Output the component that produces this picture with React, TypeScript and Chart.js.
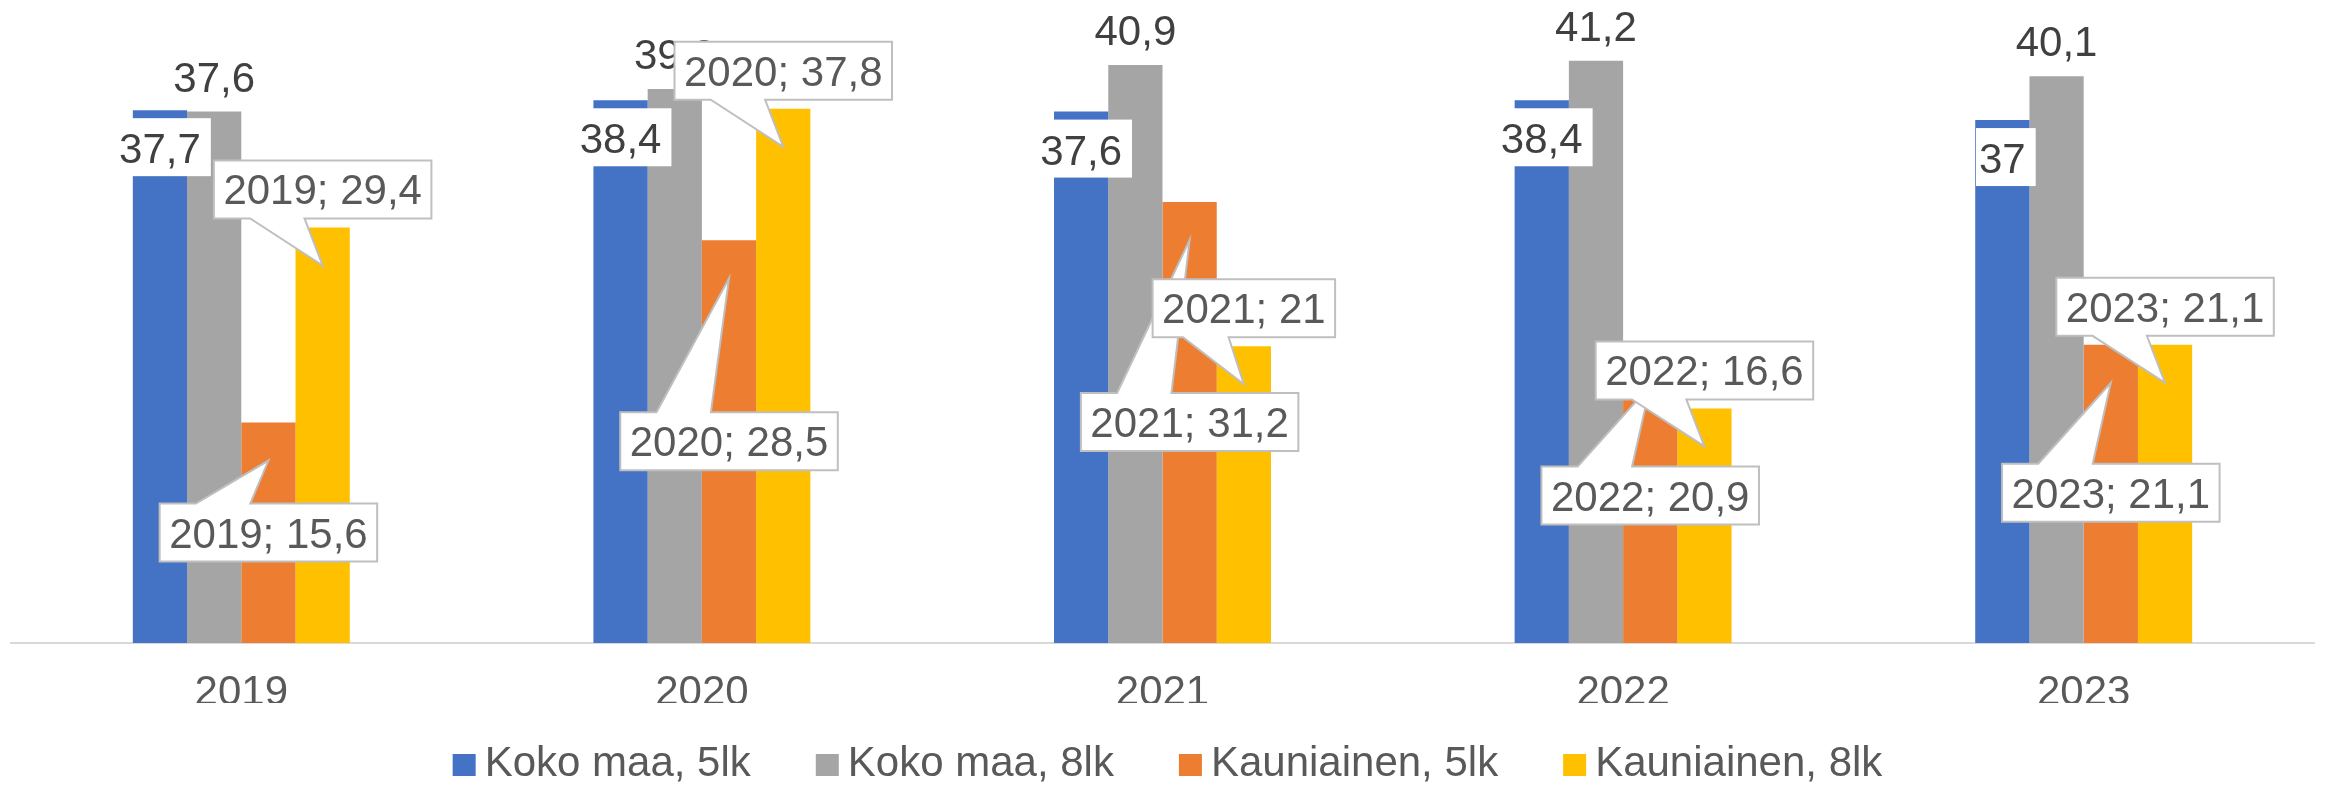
import React, { useEffect, useRef } from 'react';
import { Chart, registerables } from 'chart.js';

Chart.register(...registerables);

// ---- data ----
const categories = ['2019', '2020', '2021', '2022', '2023'];
const kokoMaa5lk = [37.7, 38.4, 37.6, 38.4, 37];
const kokoMaa8lk = [37.6, 39.2, 40.9, 41.2, 40.1];
const kauniainen5lk = [15.6, 28.5, 31.2, 20.9, 21.1];
const kauniainen8lk = [29.4, 37.8, 21, 16.6, 21.1];
const seriesNames = ['Koko maa, 5lk', 'Koko maa, 8lk', 'Kauniainen, 5lk', 'Kauniainen, 8lk'];

// ---- styles ----
const seriesColors = ['#4472C4', '#A5A5A5', '#ED7D31', '#FFC000'];
// vertical offset (px) of each callout box centre from its pointer tip
const callout5lkOffsets = [72, 163, 182, 110, 110];
const callout8lkOffsets = [-76, -76, -76, -76, -76];

const FONT = '"Liberation Sans", Arial, Helvetica, sans-serif';
const FONT_SIZE = 42;
const fmt = (v: number) => String(v).replace('.', ',');

function drawCallout(ctx: CanvasRenderingContext2D, cx: number, tipY: number, offset: number, text: string) {
  const tw = ctx.measureText(text).width;
  const w = tw + 19;
  const h = 58;
  const cy = tipY + offset;
  const l = cx - w / 2;
  const r = cx + w / 2;
  const t = cy - h / 2;
  const b = cy + h / 2;
  const xl = l + w / 6;
  const xr = l + (w * 5) / 12;
  ctx.beginPath();
  if (offset < 0) {
    // tip is below the box
    ctx.moveTo(l, t);
    ctx.lineTo(r, t);
    ctx.lineTo(r, b);
    ctx.lineTo(xr, b);
    ctx.lineTo(cx, tipY);
    ctx.lineTo(xl, b);
    ctx.lineTo(l, b);
  } else {
    // tip is above the box
    ctx.moveTo(l, t);
    ctx.lineTo(xl, t);
    ctx.lineTo(cx, tipY);
    ctx.lineTo(xr, t);
    ctx.lineTo(r, t);
    ctx.lineTo(r, b);
    ctx.lineTo(l, b);
  }
  ctx.closePath();
  ctx.fillStyle = '#FFFFFF';
  ctx.fill();
  ctx.lineWidth = 2;
  ctx.strokeStyle = '#BFBFBF';
  ctx.lineJoin = 'miter';
  ctx.stroke();
  ctx.fillStyle = '#595959';
  ctx.fillText(text, cx, cy + 15);
}

const labelsPlugin = {
  id: 'excelLabels',
  afterDatasetsDraw(chart: any) {
    const ctx: CanvasRenderingContext2D = chart.ctx;
    ctx.save();
    ctx.font = `${FONT_SIZE}px ${FONT}`;
    ctx.textAlign = 'center';
    ctx.textBaseline = 'alphabetic';

    // Koko maa, 5lk: inside end with white background
    chart.getDatasetMeta(0).data.forEach((bar: any, i: number) => {
      const { x, y } = bar.getProps(['x', 'y'], true);
      const t = fmt(kokoMaa5lk[i]);
      const tw = ctx.measureText(t).width;
      ctx.fillStyle = '#FFFFFF';
      ctx.fillRect(x - tw / 2 - 3, y + 8, tw + 13, 58);
      ctx.fillStyle = '#404040';
      ctx.fillText(t, x, y + 53);
    });

    // Koko maa, 8lk: outside end
    chart.getDatasetMeta(1).data.forEach((bar: any, i: number) => {
      const { x, y } = bar.getProps(['x', 'y'], true);
      ctx.fillStyle = '#404040';
      ctx.fillText(fmt(kokoMaa8lk[i]), x, y - 20);
    });

    // Kauniainen callouts
    chart.getDatasetMeta(2).data.forEach((bar: any, i: number) => {
      const { x, y } = bar.getProps(['x', 'y'], true);
      drawCallout(ctx, x, y + 38, callout5lkOffsets[i], `${categories[i]}; ${fmt(kauniainen5lk[i])}`);
    });
    chart.getDatasetMeta(3).data.forEach((bar: any, i: number) => {
      const { x, y } = bar.getProps(['x', 'y'], true);
      drawCallout(ctx, x, y + 38, callout8lkOffsets[i], `${categories[i]}; ${fmt(kauniainen8lk[i])}`);
    });
    ctx.restore();
  },
};

const legendPlugin = {
  id: 'excelLegend',
  afterDraw(chart: any) {
    const ctx: CanvasRenderingContext2D = chart.ctx;
    ctx.save();
    ctx.font = `${FONT_SIZE}px ${FONT}`;
    ctx.textAlign = 'left';
    ctx.textBaseline = 'alphabetic';
    const box = 23;
    const boxGap = 9;
    const itemGap = 65;
    const widths = seriesNames.map((n) => ctx.measureText(n).width);
    const total = widths.reduce((a, w) => a + box + boxGap + w, 0) + itemGap * (seriesNames.length - 1);
    const centre = (chart.chartArea.left + chart.chartArea.right) / 2 + 5;
    let x = centre - total / 2;
    const baseline = 776;
    seriesNames.forEach((name, i) => {
      ctx.fillStyle = seriesColors[i];
      ctx.fillRect(x, baseline - 22, box, 22);
      ctx.fillStyle = '#595959';
      ctx.fillText(name, x + box + boxGap, baseline);
      x += box + boxGap + widths[i] + itemGap;
    });
    ctx.restore();
  },
};

export default function App() {
  const canvasRef = useRef<HTMLCanvasElement | null>(null);

  useEffect(() => {
    if (!canvasRef.current) return;
    const values = [kokoMaa5lk, kokoMaa8lk, kauniainen5lk, kauniainen8lk];
    const chart = new Chart(canvasRef.current, {
      type: 'bar',
      data: {
        labels: categories,
        datasets: values.map((data, i) => ({
          label: seriesNames[i],
          data,
          backgroundColor: seriesColors[i],
          borderWidth: 0,
          categoryPercentage: 0.471,
          barPercentage: 1,
        })),
      },
      options: {
        responsive: false,
        animation: false,
        layout: { padding: { left: 11, right: 12, top: 7, bottom: 82 } },
        plugins: {
          legend: { display: false },
          tooltip: { enabled: false },
        },
        scales: {
          x: {
            grid: { display: false, drawTicks: false },
            border: { display: true, color: '#D9D9D9', width: 2 },
            ticks: {
              font: { size: FONT_SIZE, family: FONT },
              color: '#595959',
              padding: 25,
              maxRotation: 0,
            },
            afterFit: (scale: any) => {
              scale.height = 60;
            },
          },
          y: { display: false, min: 0, max: 45 },
        },
      },
      plugins: [labelsPlugin, legendPlugin],
    } as any);
    return () => chart.destroy();
  }, []);

  return (
    <div style={{ position: 'fixed', left: 0, top: 0, width: 2326, height: 785, background: '#FFFFFF' }}>
      <canvas ref={canvasRef} width={2326} height={785} style={{ display: 'block' }} />
    </div>
  );
}
